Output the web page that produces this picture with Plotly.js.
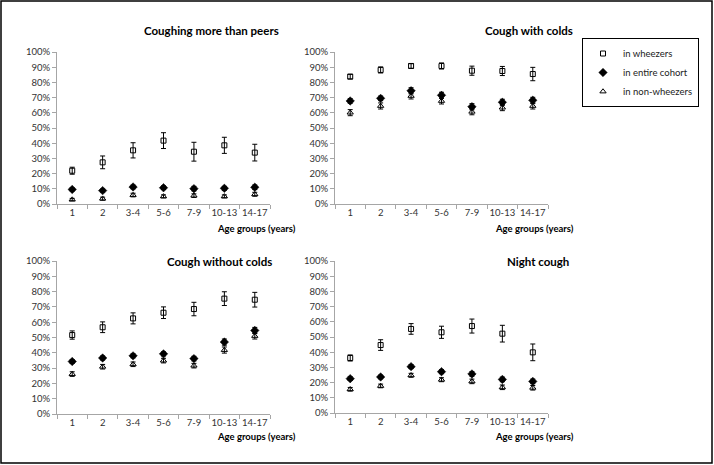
<!DOCTYPE html>
<html>
<head>
<meta charset="utf-8">
<script src="https://cdn.plot.ly/plotly-3.0.1.min.js"></script>
<style>html,body{margin:0;padding:0;background:#fff;}#chart{width:714px;height:465px;}</style>
</head>
<body>
<div id="chart"></div>
<script>
const ageGroups = ['1', '2', '3-4', '5-6', '7-9', '10-13', '14-17'];
const panelTitles = ['Coughing more than peers', 'Cough with colds', 'Cough without colds', 'Night cough'];
const seriesNames = ['in wheezers', 'in entire cohort', 'in non-wheezers'];

// Panel 1: Coughing more than peers
const peersWheezers = [21.9, 27.4, 35.3, 41.7, 34.4, 38.6, 33.8];
const peersWheezersErr = [2.3, 4.2, 5.0, 5.2, 6.2, 5.3, 5.5];
const peersCohort = [9.6, 8.8, 11.2, 10.7, 10.1, 10.3, 11.0];
const peersCohortErr = [1.0, 1.0, 1.2, 1.2, 1.5, 1.3, 1.5];
const peersNon = [2.9, 3.5, 5.9, 5.0, 5.5, 5.0, 6.4];
const peersNonErr = [0.8, 1.0, 1.2, 1.0, 1.2, 1.0, 1.3];

// Panel 2: Cough with colds
const coldsWheezers = [83.8, 88.2, 90.8, 90.8, 87.7, 87.5, 85.5];
const coldsWheezersErr = [1.5, 2.0, 1.5, 2.0, 3.0, 3.0, 4.4];
const coldsCohort = [67.8, 69.5, 74.5, 71.5, 64.0, 66.9, 68.2];
const coldsCohortErr = [1.5, 1.5, 2.0, 2.0, 2.0, 2.0, 2.0];
const coldsNon = [60.1, 64.5, 71.1, 67.8, 60.7, 63.4, 64.5];
const coldsNonErr = [2.0, 2.0, 2.0, 2.0, 2.0, 2.0, 2.0];

// Panel 3: Cough without colds
const withoutWheezers = [51.6, 56.7, 62.5, 66.2, 68.6, 75.4, 74.7];
const withoutWheezersErr = [2.7, 3.5, 3.6, 3.8, 4.4, 4.5, 4.8];
const withoutCohort = [34.3, 36.6, 38.0, 39.3, 36.2, 47.0, 54.6];
const withoutCohortErr = [1.2, 1.3, 1.3, 1.3, 1.5, 2.0, 2.0];
const withoutNon = [26.1, 30.9, 32.5, 34.9, 31.6, 41.8, 51.0];
const withoutNonErr = [1.5, 1.5, 1.5, 1.5, 1.5, 2.0, 2.0];

// Panel 4: Night cough
const nightWheezers = [36.2, 44.7, 55.3, 53.1, 57.2, 52.2, 39.9];
const nightWheezersErr = [2.0, 3.5, 3.5, 4.0, 4.6, 5.5, 5.5];
const nightCohort = [22.6, 23.7, 30.5, 27.2, 25.7, 22.1, 20.8];
const nightCohortErr = [1.2, 1.2, 1.3, 1.3, 1.5, 1.5, 1.5];
const nightNon = [15.6, 17.8, 24.8, 21.9, 20.8, 16.9, 16.6];
const nightNonErr = [1.2, 1.2, 1.3, 1.3, 1.5, 1.5, 1.5];

const panels = [
  [peersWheezers, peersWheezersErr, peersCohort, peersCohortErr, peersNon, peersNonErr],
  [coldsWheezers, coldsWheezersErr, coldsCohort, coldsCohortErr, coldsNon, coldsNonErr],
  [withoutWheezers, withoutWheezersErr, withoutCohort, withoutCohortErr, withoutNon, withoutNonErr],
  [nightWheezers, nightWheezersErr, nightCohort, nightCohortErr, nightNon, nightNonErr]
];

const markerStyles = [
  {symbol: 'square-open', size: 5, color: '#000', line: {width: 1, color: '#000'}},
  {symbol: 'diamond', size: 6.5, color: '#000', line: {width: 0.5, color: '#000'}},
  {symbol: 'triangle-up-open', size: 5.5, color: '#000', line: {width: 1, color: '#000'}}
];

const FONT = 'Lato, "Open Sans", sans-serif';
const W = 714, H = 465;
const traces = [];
panels.forEach((p, i) => {
  const ax = i === 0 ? '' : String(i + 1);
  for (let s = 0; s < 3; s++) {
    traces.push({
      type: 'scatter', mode: 'markers',
      x: ageGroups, y: p[s * 2],
      error_y: {type: 'data', array: p[s * 2 + 1], visible: true, color: '#000', thickness: 1, width: 2.5},
      marker: markerStyles[s],
      name: seriesNames[s],
      legendgroup: 'g' + s,
      showlegend: i === 0,
      xaxis: 'x' + ax, yaxis: 'y' + ax,
      hoverinfo: 'x+y'
    });
  }
});

const px = v => v / W;
const py = v => 1 - v / H;
const xDomains = [[px(57), px(270)], [px(335), px(548)], [px(57), px(270)], [px(335), px(548)]];
const yDomains = [[py(204), py(52)], [py(204), py(52)], [py(414), py(261)], [py(413), py(261)]];

const layout = {
  width: W, height: H,
  margin: {l: 0, r: 0, t: 0, b: 0},
  paper_bgcolor: '#fff', plot_bgcolor: '#fff',
  font: {family: FONT, size: 9.5, color: '#333'},
  showlegend: true,
  legend: {
    x: px(582), y: py(38), xanchor: 'left', yanchor: 'top',
    bordercolor: '#000', borderwidth: 1, bgcolor: '#fff',
    font: {family: FONT, size: 9.5, color: '#222'},
    itemwidth: 30, tracegroupgap: 0
  },
  annotations: [],
  shapes: [{type: 'rect', xref: 'paper', yref: 'paper', x0: px(1), x1: px(712), y0: py(463), y1: py(1), line: {color: '#000', width: 1.5}}]
};

const titlePos = [[211, 31], [529, 31], [219, 261], [538, 261]];
const agePos = [[298, 229], [576, 229], [298, 436], [576, 436]];
for (let i = 0; i < 4; i++) {
  const ax = i === 0 ? '' : String(i + 1);
  layout['xaxis' + ax] = {
    domain: xDomains[i], anchor: 'y' + ax, type: 'category',
    range: [-0.5, 6.5], showgrid: false, zeroline: false,
    showline: true, linecolor: '#a6a6a6', linewidth: 1,
    ticks: 'outside', tickson: 'boundaries', ticklen: 4, tickcolor: '#a6a6a6',
    tickangle: 0, automargin: false,
    tickfont: {family: FONT, size: 9.5, color: '#333'}, fixedrange: true
  };
  layout['yaxis' + ax] = {
    domain: yDomains[i], anchor: 'x' + ax,
    range: [0, 100], dtick: 10, ticksuffix: '%',
    showgrid: false, zeroline: false,
    showline: true, linecolor: '#a6a6a6', linewidth: 1,
    ticks: 'outside', ticklen: 4, tickcolor: '#a6a6a6', automargin: false,
    tickfont: {family: FONT, size: 9.5, color: '#333'}, fixedrange: true
  };
  layout.annotations.push({
    text: '<b>' + panelTitles[i] + '</b>', xref: 'paper', yref: 'paper',
    x: px(titlePos[i][0]), y: py(titlePos[i][1]), xanchor: 'center', yanchor: 'middle',
    showarrow: false, font: {family: FONT, size: 11.5, color: '#000'}
  });
  layout.annotations.push({
    text: '<b>Age groups (years)</b>', xref: 'paper', yref: 'paper',
    x: px(agePos[i][0]), y: py(agePos[i][1]), xanchor: 'right', yanchor: 'middle',
    showarrow: false, font: {family: FONT, size: 9.5, color: '#000'}
  });
}

Plotly.newPlot('chart', traces, layout, {displayModeBar: false, staticPlot: true});
</script>
</body>
</html>
